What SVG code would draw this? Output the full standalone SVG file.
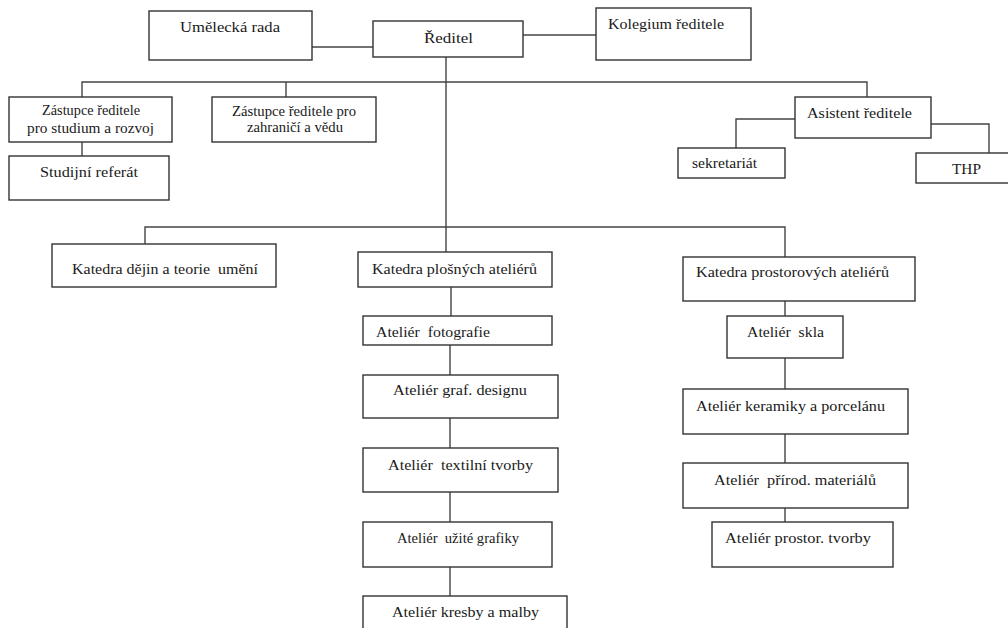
<svg xmlns="http://www.w3.org/2000/svg" width="1008" height="628" viewBox="0 0 1008 628" font-family="Liberation Serif, serif" font-size="15">
<style>
.box{fill:#fff;stroke:#333;stroke-width:1.4}
.ln{fill:none;stroke:#444;stroke-width:1.4}
.t{fill:#1a1a1a}
</style>
<rect width="1008" height="628" fill="#fff"/>
<g id="connectors">
<path class="ln" d="M312,47H373"/>
<path class="ln" d="M523,35H596"/>
<path class="ln" d="M446,57V252"/>
<path class="ln" d="M82,97V82H867V97"/>
<path class="ln" d="M286,82V97"/>
<path class="ln" d="M82,142V156"/>
<path class="ln" d="M795,119H736V148"/>
<path class="ln" d="M931,124H989V153"/>
<path class="ln" d="M145,244V227H785V257"/>
<path class="ln" d="M451,287V316"/>
<path class="ln" d="M450,345V375M450,418V448M450,492V522M450,567V596"/>
<path class="ln" d="M785,301V316M785,358V389M785,434V463M785,508V522"/>
</g>
<g id="umelecka-rada"><rect class="box" x="149" y="11" width="163" height="49"/><text class="t" font-family="Liberation Serif, serif" x="180" y="32" textLength="100" lengthAdjust="spacingAndGlyphs">Umělecká rada</text></g>
<g id="reditel"><rect class="box" x="373" y="21" width="150" height="36"/><text class="t" font-family="Liberation Serif, serif" x="424" y="43" textLength="49" lengthAdjust="spacingAndGlyphs">Ředitel</text></g>
<g id="kolegium"><rect class="box" x="596" y="8" width="155" height="52"/><text class="t" font-family="Liberation Serif, serif" x="608" y="29" textLength="116" lengthAdjust="spacingAndGlyphs">Kolegium ředitele</text></g>
<g id="zastupce-studium"><rect class="box" x="9" y="97" width="163" height="45"/><text class="t" font-family="Liberation Serif, serif" x="42" y="115" textLength="98" lengthAdjust="spacingAndGlyphs">Zástupce ředitele</text><text class="t" font-family="Liberation Serif, serif" x="27" y="133" textLength="127" lengthAdjust="spacingAndGlyphs">pro studium a rozvoj</text></g>
<g id="zastupce-zahranici"><rect class="box" x="212" y="97" width="164" height="45"/><text class="t" font-family="Liberation Serif, serif" x="232" y="116" textLength="124" lengthAdjust="spacingAndGlyphs">Zástupce ředitele pro</text><text class="t" font-family="Liberation Serif, serif" x="247" y="132" textLength="96" lengthAdjust="spacingAndGlyphs">zahraničí a vědu</text></g>
<g id="studijni-referat"><rect class="box" x="9" y="156" width="160" height="44"/><text class="t" font-family="Liberation Serif, serif" x="40" y="177" textLength="98" lengthAdjust="spacingAndGlyphs">Studijní referát</text></g>
<g id="asistent"><rect class="box" x="795" y="97" width="136" height="41"/><text class="t" font-family="Liberation Serif, serif" x="807" y="118" textLength="105" lengthAdjust="spacingAndGlyphs">Asistent ředitele</text></g>
<g id="sekretariat"><rect class="box" x="678" y="148" width="107" height="30"/><text class="t" font-family="Liberation Serif, serif" x="692" y="168" textLength="65" lengthAdjust="spacingAndGlyphs">sekretariát</text></g>
<g id="thp"><rect class="box" x="916" y="153" width="100" height="30"/><text class="t" font-family="Liberation Serif, serif" x="952" y="174" textLength="29" lengthAdjust="spacingAndGlyphs">THP</text></g>
<g id="katedra-dejin"><rect class="box" x="52" y="244" width="224" height="43"/><text class="t" font-family="Liberation Serif, serif" x="72" y="274" textLength="186" lengthAdjust="spacingAndGlyphs" xml:space="preserve">Katedra dějin a teorie  umění</text></g>
<g id="katedra-plosnych"><rect class="box" x="358" y="252" width="194" height="35"/><text class="t" font-family="Liberation Serif, serif" x="372" y="274" textLength="165" lengthAdjust="spacingAndGlyphs">Katedra plošných ateliérů</text></g>
<g id="katedra-prostorovych"><rect class="box" x="683" y="257" width="232" height="44"/><text class="t" font-family="Liberation Serif, serif" x="696" y="277" textLength="193" lengthAdjust="spacingAndGlyphs">Katedra prostorových ateliérů</text></g>
<g id="atelier-fotografie"><rect class="box" x="363" y="316" width="189" height="29"/><text class="t" font-family="Liberation Serif, serif" x="376" y="337" textLength="114" lengthAdjust="spacingAndGlyphs" xml:space="preserve">Ateliér  fotografie</text></g>
<g id="atelier-graf"><rect class="box" x="363" y="375" width="195" height="43"/><text class="t" font-family="Liberation Serif, serif" x="393" y="395" textLength="134" lengthAdjust="spacingAndGlyphs">Ateliér graf. designu</text></g>
<g id="atelier-textil"><rect class="box" x="363" y="448" width="195" height="44"/><text class="t" font-family="Liberation Serif, serif" x="388" y="470" textLength="145" lengthAdjust="spacingAndGlyphs" xml:space="preserve">Ateliér  textilní tvorby</text></g>
<g id="atelier-uzite"><rect class="box" x="363" y="522" width="189" height="45"/><text class="t" font-family="Liberation Serif, serif" x="397" y="543" textLength="122" lengthAdjust="spacingAndGlyphs" xml:space="preserve">Ateliér  užité grafiky</text></g>
<g id="atelier-kresby"><rect class="box" x="363" y="596" width="204" height="44"/><text class="t" font-family="Liberation Serif, serif" x="392" y="617" textLength="147" lengthAdjust="spacingAndGlyphs">Ateliér kresby a malby</text></g>
<g id="atelier-skla"><rect class="box" x="727" y="316" width="116" height="42"/><text class="t" font-family="Liberation Serif, serif" x="747" y="337" textLength="77" lengthAdjust="spacingAndGlyphs" xml:space="preserve">Ateliér  skla</text></g>
<g id="atelier-keramiky"><rect class="box" x="683" y="389" width="225" height="45"/><text class="t" font-family="Liberation Serif, serif" x="696" y="411" textLength="189" lengthAdjust="spacingAndGlyphs">Ateliér keramiky a porcelánu</text></g>
<g id="atelier-prirod"><rect class="box" x="683" y="463" width="225" height="45"/><text class="t" font-family="Liberation Serif, serif" x="714" y="485" textLength="162" lengthAdjust="spacingAndGlyphs" xml:space="preserve">Ateliér  přírod. materiálů</text></g>
<g id="atelier-prostor"><rect class="box" x="712" y="522" width="181" height="45"/><text class="t" font-family="Liberation Serif, serif" x="725" y="543" textLength="146" lengthAdjust="spacingAndGlyphs">Ateliér prostor. tvorby</text></g>
</svg>
